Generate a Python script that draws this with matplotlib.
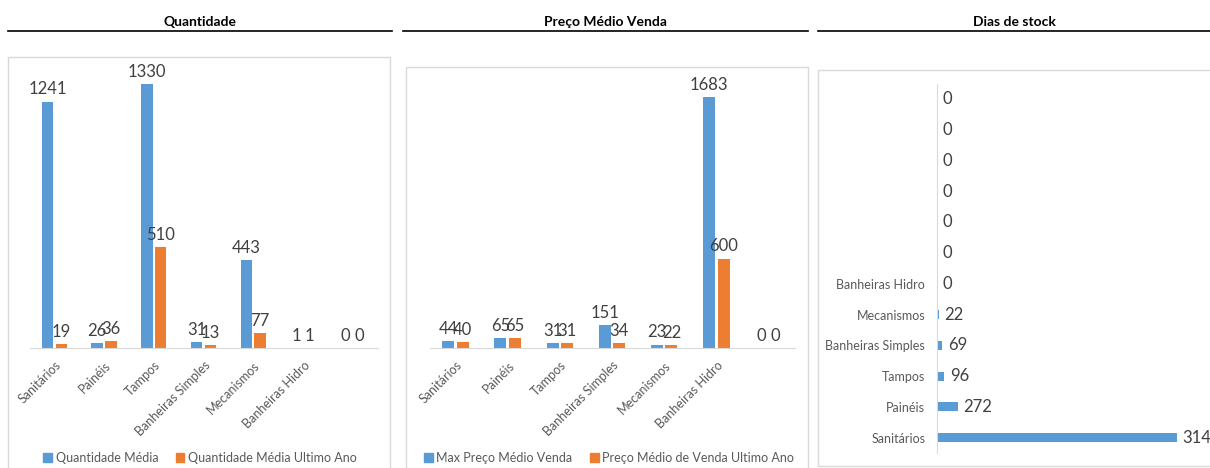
import matplotlib
matplotlib.use("Agg")
import matplotlib.pyplot as plt
from matplotlib.patches import Rectangle, Patch
from matplotlib.lines import Line2D
import numpy as np

# ---- data ----
categories = ['Sanitários', 'Painéis', 'Tampos', 'Banheiras Simples', 'Mecanismos', 'Banheiras Hidro', '']
qtd_media = [1241, 26, 1330, 31, 443, 1, 0]
qtd_ultimo_ano = [19, 36, 510, 13, 77, 1, 0]
preco_max = [44, 65, 31, 151, 23, 1683, 0]
preco_ultimo_ano = [40, 65, 31, 34, 22, 600, 0]
stock_categories = ['Sanitários', 'Painéis', 'Tampos', 'Banheiras Simples', 'Mecanismos',
                    'Banheiras Hidro', '', '', '', '', '', '']
dias_stock = [3146, 272, 96, 69, 22, 0, 0, 0, 0, 0, 0, 0]

titles = ['Quantidade', 'Preço Médio Venda', 'Dias de stock']
legend1 = ['Quantidade Média', 'Quantidade Média Ultimo Ano']
legend2 = ['Max Preço Médio Venda', 'Preço Médio de Venda Ultimo Ano']

BLUE = '#5B9BD5'
ORANGE = '#ED7D31'
GRID = '#D9D9D9'
LBL = '#404040'
TICK = '#595959'

plt.rcParams['font.family'] = ['Lato', 'DejaVu Sans']

W, H = 1210, 468
fig = plt.figure(figsize=(W / 100, H / 100), dpi=100)


def ax_px(x0, y0, x1, y1):
    return fig.add_axes([x0 / W, 1 - y1 / H, (x1 - x0) / W, (y1 - y0) / H])


def box(x0, y0, x1, y1):
    fig.add_artist(Rectangle((x0 / W, 1 - y1 / H), (x1 - x0) / W, (y1 - y0) / H,
                             transform=fig.transFigure, fill=False,
                             edgecolor=GRID, linewidth=1.0))


def header(text, x0, x1):
    fig.text((x0 + x1) / 2 / W, 1 - 22 / H, text, ha='center', va='center',
             fontsize=10, fontweight='bold', color='black')
    fig.add_artist(Line2D([x0 / W, x1 / W], [1 - 31 / H, 1 - 31 / H],
                          transform=fig.transFigure, color='black', linewidth=1.2))


# headers
header(titles[0], 8, 392)
header(titles[1], 403, 808)
header(titles[2], 818, 1210)

# chart boxes
box(8, 57, 390, 475)
box(406, 67, 808, 475)
box(818, 70, 1215, 466)


def vbar_panel(ax, v1, v2, ymax):
    x = np.arange(len(categories))
    w = 0.23
    b1 = ax.bar(x - 0.15, v1, w, color=BLUE)
    b2 = ax.bar(x + 0.13, v2, w, color=ORANGE)
    ax.set_xlim(-0.5, len(categories) - 0.5)
    ax.set_ylim(0, ymax)
    for bars, vals in ((b1, v1), (b2, v2)):
        for r, v in zip(bars, vals):
            ax.annotate(str(v), (r.get_x() + r.get_width() / 2, v),
                        xytext=(0, 3), textcoords='offset points',
                        ha='center', va='bottom', fontsize=12, color=LBL,
                        annotation_clip=False)
    for s in ['top', 'right', 'left']:
        ax.spines[s].set_visible(False)
    ax.spines['bottom'].set_color(GRID)
    ax.set_yticks([])
    ax.set_xticks(x)
    ax.set_xticklabels(categories, rotation=45, ha='right', rotation_mode='anchor',
                       fontsize=9, color=TICK)
    ax.tick_params(axis='x', length=0, pad=8)
    ax.patch.set_visible(False)


ax1 = ax_px(30, 70, 378, 348)
vbar_panel(ax1, qtd_media, qtd_ultimo_ano, 1400)

ax2 = ax_px(430, 70, 795, 348)
vbar_panel(ax2, preco_max, preco_ultimo_ano, 1865)

# legends
for cx, labels in ((200, legend1), (609, legend2)):
    handles = [Patch(color=BLUE), Patch(color=ORANGE)]
    fig.legend(handles, labels, loc='center', bbox_to_anchor=(cx / W, 1 - 458 / H),
               ncol=2, frameon=False, fontsize=9, labelcolor=TICK,
               handlelength=0.7, handleheight=0.7, handletextpad=0.3,
               columnspacing=1.4, borderaxespad=0)

# horizontal bar panel
ax3 = ax_px(937, 84, 1210, 453)
y = np.arange(len(stock_categories))
bars = ax3.barh(y, dias_stock, 0.3, color=BLUE)
ax3.set_ylim(-0.5, len(stock_categories) - 0.5)
ax3.set_xlim(0, 273 / (240 / 3146))
for r, v in zip(bars, dias_stock):
    ax3.annotate(str(v), (v, r.get_y() + r.get_height() / 2), xytext=(4, 0),
                 textcoords='offset points', ha='left', va='center',
                 fontsize=12, color=LBL, annotation_clip=False)
for s in ['top', 'right', 'bottom']:
    ax3.spines[s].set_visible(False)
ax3.spines['left'].set_color(GRID)
ax3.set_xticks([])
ax3.set_yticks(y)
ax3.set_yticklabels(stock_categories, fontsize=9, color=TICK)
ax3.tick_params(axis='y', length=0, pad=8.5)
ax3.patch.set_visible(False)

fig.savefig('out.png', dpi=100)
